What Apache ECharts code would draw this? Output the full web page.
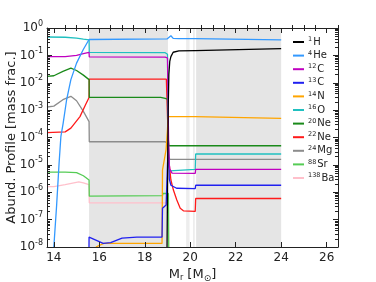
<!DOCTYPE html>
<html><head><meta charset="utf-8">
<script src="https://cdn.jsdelivr.net/npm/echarts@6/dist/echarts.min.js"></script>
<style>html,body{margin:0;padding:0;background:#fff}#c{width:376px;height:282px}</style>
</head><body><div id="c"></div>
<script>
// ---- data ----
const massNums = ['1','4','12','13','14','16','20','22','24','88','138'];
const elements = ['H','He','C','C','N','O','Ne','Ne','Mg','Sr','Ba'];
const colors = ['#000000','#3399ff','#c000c0','#2020f0','#ffa500','#20c0c0','#1a8a1a','#ff1a1a','#8c8c8c','#55cc55','#ffc0cb'];

const h1X  = [18.97,18.99,19.01,19.03,19.06,19.10,19.15,19.25,19.50,20.22,20.24,24.0];
const h1Y  = [1e-9,1e-7,1e-5,1e-3,0.02,0.06,0.09,0.13,0.145,0.15,0.175,0.175];
const he4X = [13.97,14.0,14.12,14.23,14.31,14.41,14.56,14.75,15.0,15.29,15.55,18.98,19.04,19.15,19.25,19.5,20.22,20.24,24.0];
const he4Y = [1e-9,1e-8,3e-7,1.1e-5,1.07e-4,3.3e-4,2.3e-3,0.013,0.052,0.16,0.38,0.40,0.41,0.52,0.42,0.41,0.41,0.37,0.37];
const c12X = [13.7,14.5,15.0,15.3,15.55,15.56,18.9,19.0,19.03,19.06,19.1,19.2,20.22,20.24,24.0];
const c12Y = [0.09,0.09,0.1,0.115,0.128,0.088,0.087,0.08,1e-3,1.5e-5,7e-6,5e-6,4.9e-6,6.9e-6,6.9e-6];
const c13X = [15.54,15.55,16.17,16.5,17.0,17.65,18.76,18.78,18.94,19.0,19.04,19.08,19.15,19.4,20.22,20.24,24.0];
const c13Y = [1e-9,2.3e-8,1.35e-8,1.45e-8,2.1e-8,2.3e-8,2.3e-8,2.6e-7,3.4e-7,1e-5,6e-5,3e-6,1.8e-6,1.4e-6,1.35e-6,1.8e-6,1.8e-6];
const n14X = [15.85,16.2,18.76,18.78,18.94,19.0,19.03,20.22,20.24,24.0];
const n14Y = [1e-8,1.35e-8,1.35e-8,6.5e-6,3.7e-5,2e-4,5.8e-4,5.8e-4,5e-4,5e-4];
const o16X = [13.7,14.5,15.0,15.3,15.55,15.56,18.9,19.0,19.02,19.05,19.1,20.22,20.24,24.0];
const o16Y = [0.47,0.46,0.43,0.39,0.37,0.128,0.125,0.11,1e-3,1e-5,6e-6,6.9e-6,2.5e-5,2.5e-5];
const ne20X = [13.7,14.0,14.4,14.75,15.0,15.3,15.55,15.56,18.7,18.9,19.0,19.03,19.06,24.0];
const ne20Y = [0.017,0.018,0.026,0.034,0.028,0.019,0.013,0.0029,0.0029,0.0027,0.0025,1e-4,5e-5,5e-5];
const ne22X = [13.7,14.5,14.75,15.15,15.4,15.55,15.56,18.95,19.0,19.03,19.08,19.15,19.26,19.41,19.56,19.7,20.22,20.24,24.0];
const ne22Y = [1.5e-4,1.6e-4,2.2e-4,5.8e-4,1.6e-3,2.9e-3,0.0135,0.0135,0.012,1e-4,1e-5,2.8e-6,1.2e-6,5.2e-7,2.6e-7,2.1e-7,2.0e-7,5.9e-7,5.9e-7];
const mg24X = [13.7,14.0,14.4,14.75,15.0,15.3,15.55,15.56,18.9,19.0,19.05,19.1,24.0];
const mg24Y = [1.3e-3,1.4e-3,2.4e-3,3.2e-3,2.2e-3,9e-4,3.8e-4,7e-5,7e-5,6e-5,2e-5,1.6e-5,1.6e-5];
const sr88X = [13.7,14.5,15.0,15.3,15.55,15.56,18.78,18.8,19.04,19.06];
const sr88Y = [5.4e-6,5.4e-6,5.2e-6,4e-6,2.8e-6,7.2e-7,7.5e-7,9e-7,9e-7,1e-9];
const ba138X = [13.7,14.0,14.5,15.1,15.3,15.55,15.56,19.04,19.06];
const ba138Y = [1.6e-6,1.6e-6,1.9e-6,2.4e-6,2.2e-6,1.9e-6,4.1e-7,4.1e-7,1e-9];

const shadeDark = [[15.55,19.02],[20.26,24.0]];
const shadeLight = [[19.82,19.97],[20.12,20.2]];
const xLabelVals = [14,16,18,20,22,24,26];
const xMinorVals = [14.5,15,15.5,16.5,17,17.5,18.5,19,19.5,20.5,21,21.5,22.5,23,23.5,24.5,25,25.5,26.5];
const yExpMin = -8, yExpMax = 0;

const allX = [h1X,he4X,c12X,c13X,n14X,o16X,ne20X,ne22X,mg24X,sr88X,ba138X];
const allY = [h1Y,he4Y,c12Y,c13Y,n14Y,o16Y,ne20Y,ne22Y,mg24Y,sr88Y,ba138Y];

// minor log ticks expressed as exponents (decorative exponent-space axes)
const yMinorExp = [];
for (let e = yExpMin; e < yExpMax; e++) for (let m = 2; m <= 9; m++) yMinorExp.push(e + Math.log10(m));

const FONT = 'DejaVu Sans';
const AX = '#222';
const names = massNums.map((m,i)=>m + elements[i]);
const G = {left:47, right:38, top:28, bottom:35, containLabel:false, outerBoundsMode:'none'};

const chart = echarts.init(document.getElementById('c'), null, {renderer:'canvas'});

// grid 2 holds the data (log y), grids 0/1 hold decorative major/minor ticks
const series = names.map((n,i)=>({
  name: n, type:'line', xAxisIndex:4, yAxisIndex:4,
  data: allX[i].map((x,k)=>[x, allY[i][k]]),
  showSymbol:false, symbol:'none', clip:true, z: 3 + (11-i)*0.01,
  lineStyle:{color:colors[i], width:1.3}, itemStyle:{color:colors[i]}
}));
series.unshift({
  name:'shade', type:'line', xAxisIndex:4, yAxisIndex:4, data:[], silent:true, z:1,
  markArea:{silent:true, data:
    shadeDark.map(r=>[{xAxis:r[0], itemStyle:{color:'#e5e5e5'}},{xAxis:r[1]}])
    .concat(shadeLight.map(r=>[{xAxis:r[0], itemStyle:{color:'#ededed'}},{xAxis:r[1]}]))
  }
});

function yFmt(v){ return '{b|10}{s|'+Math.round(v)+'}'; }
const yRich = {b:{fontFamily:FONT,fontSize:12,color:AX}, s:{fontFamily:FONT,fontSize:8,color:AX,padding:[0,0,9,0]}};

const baseX = {type:'value', min:13.7, max:26.5, splitLine:{show:false}, z:10};
const baseE = {type:'value', min:yExpMin, max:yExpMax, interval:1, splitLine:{show:false}, z:10};
const majorTick = (vals)=>({show:true, inside:true, length:5, customValues:vals, lineStyle:{color:AX, width:1}});
const minorTick = (vals)=>({show:true, inside:true, length:3, customValues:vals, lineStyle:{color:AX, width:1}});
const line = {show:true, onZero:false, lineStyle:{color:AX, width:1}};

chart.setOption({
  animation:false,
  backgroundColor:'#fff',
  grid:[Object.assign({},G), Object.assign({},G), Object.assign({},G)],
  legend:{
    data:names, orient:'vertical', left:288, top:31, itemGap:2.6,
    icon:'rect', itemWidth:11, itemHeight:2,
    formatter:(n)=>{const i=names.indexOf(n); return '{s|'+massNums[i]+'}{e|'+elements[i]+'}';},
    textStyle:{fontFamily:FONT, fontSize:9.5, color:'#222', padding:[0,0,0,-1],
      rich:{s:{fontFamily:FONT,fontSize:6.5,color:'#222',padding:[0,1,5,0]}, e:{fontFamily:FONT,fontSize:10,color:'#222'}}}
  },
  xAxis:[
    Object.assign({}, baseX, {gridIndex:0, position:'bottom',
      name:'{a|M}{sub|r}{a| [M}{sub2|⊙}{a|]}', nameLocation:'middle', nameGap:20, nameMoveOverlap:false,
      nameTextStyle:{rich:{a:{fontFamily:FONT,fontSize:13,color:AX}, sub:{fontFamily:FONT,fontSize:8,color:AX,padding:[6,0,0,0]}, sub2:{fontFamily:FONT,fontSize:9,color:AX,padding:[7,0,0,0]}}},
      axisLine:line, axisTick:majorTick(xLabelVals),
      axisLabel:{show:true, customValues:xLabelVals, fontFamily:FONT, fontSize:12, color:AX, margin:5}}),
    Object.assign({}, baseX, {gridIndex:0, position:'top',
      axisLine:line, axisLabel:{show:false}, axisTick:majorTick(xLabelVals)}),
    Object.assign({}, baseX, {gridIndex:1, position:'bottom',
      axisLine:{show:false}, axisLabel:{show:false}, axisTick:minorTick(xMinorVals)}),
    Object.assign({}, baseX, {gridIndex:1, position:'top',
      axisLine:{show:false}, axisLabel:{show:false}, axisTick:minorTick(xMinorVals)}),
    Object.assign({}, baseX, {gridIndex:2, position:'bottom', z:0,
      axisLine:{show:false}, axisLabel:{show:false}, axisTick:{show:false}})
  ],
  yAxis:[
    Object.assign({}, baseE, {gridIndex:0, position:'left',
      name:'Abund. Profile [mass frac.]', nameLocation:'middle', nameGap:29, nameRotate:90, nameMoveOverlap:false,
      nameTextStyle:{fontFamily:FONT, fontSize:13, color:AX},
      axisLine:line, axisTick:{show:true, inside:true, length:5, lineStyle:{color:AX,width:1}},
      axisLabel:{show:true, formatter:yFmt, rich:yRich, margin:4}}),
    Object.assign({}, baseE, {gridIndex:0, position:'right',
      axisLine:line, axisLabel:{show:false}, axisTick:{show:true, inside:true, length:5, lineStyle:{color:AX,width:1}}}),
    Object.assign({}, baseE, {gridIndex:1, position:'left',
      axisLine:{show:false}, axisLabel:{show:false}, axisTick:minorTick(yMinorExp)}),
    Object.assign({}, baseE, {gridIndex:1, position:'right',
      axisLine:{show:false}, axisLabel:{show:false}, axisTick:minorTick(yMinorExp)}),
    {type:'log', logBase:10, min:Math.pow(10,yExpMin), max:Math.pow(10,yExpMax), gridIndex:2, position:'left', z:0,
      axisLine:{show:false}, axisTick:{show:false}, axisLabel:{show:false}, splitLine:{show:false}}
  ],
  series: series
});
</script></body></html>
